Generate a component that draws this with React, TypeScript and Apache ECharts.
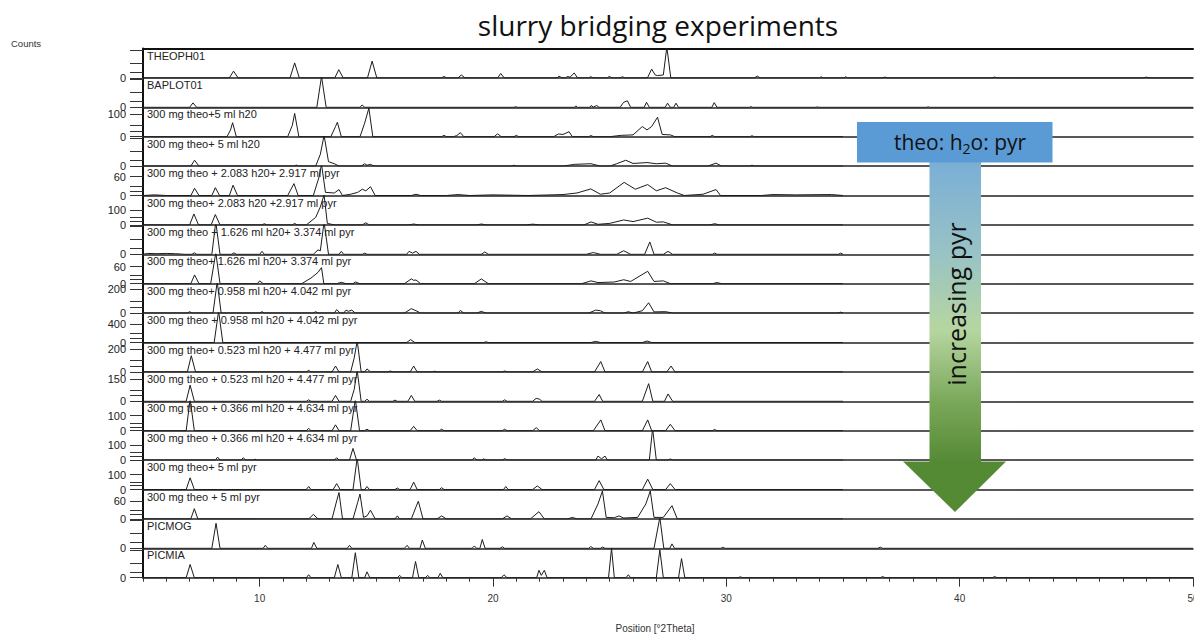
import React, { useEffect, useRef } from "react";
import * as echarts from "echarts";

// Strip names, top to bottom
const sampleNames = [
  "THEOPH01",
  "BAPLOT01",
  "300 mg theo+5 ml h20",
  "300 mg theo+ 5 ml h20",
  "300 mg theo + 2.083 h20+ 2.917 ml pyr",
  "300 mg theo+ 2.083 h20 +2.917 ml pyr",
  "300 mg theo + 1.626 ml h20+ 3.374 ml pyr",
  "300 mg theo+ 1.626 ml h20+ 3.374 ml pyr",
  "300 mg theo+ 0.958 ml h20+ 4.042 ml pyr",
  "300 mg theo + 0.958 ml h20 + 4.042 ml pyr",
  "300 mg theo+ 0.523 ml h20 + 4.477 ml pyr",
  "300 mg theo + 0.523 ml h20 + 4.477 ml pyr",
  "300 mg theo + 0.366 ml h20 + 4.634 ml pyr",
  "300 mg theo + 0.366 ml h20 + 4.634 ml pyr",
  "300 mg theo+ 5 ml pyr",
  "300 mg theo + 5 ml pyr",
  "PICMOG",
  "PICMIA",
];

// Counts at the top edge of each strip
const stripMax = [100, 100, 130, 100, 94, 196, 100, 104, 245, 653, 256, 200, 196, 196, 196, 98, 100, 100];

// Tick values and labelled values on each strip's counts axis
const stripTicks = [
  [0, 20, 50, 95], [0, 20, 50, 95], [0, 25, 50, 100], [0, 20, 50, 95],
  [0, 15, 30, 60], [0, 25, 50, 100], [0, 20, 50, 95], [0, 15, 30, 60],
  [0, 50, 100, 200], [0, 100, 200, 400], [0, 50, 100, 200], [0, 40, 75, 150],
  [0, 25, 50, 100], [0, 25, 50, 100], [0, 25, 50, 100], [0, 15, 30, 60],
  [0, 20, 50, 95], [0, 20, 50, 95],
];
const stripLabels = [
  [0], [0], [0, 100], [0], [0, 60], [0, 100], [0], [0, 60], [0, 200],
  [0, 400], [0, 200], [0, 150], [0, 100], [0, 100], [0, 100], [0, 60], [0], [0],
];

// Position axis ticks
const majorPositions = [10, 20, 30, 40, 50];

// Diffractograms: [°2θ, counts]
const theoph01 = [[5,0],[8.7,0],[8.88,23],[9.08,0],[11.3,0],[11.5,51],[11.7,0],[13.22,0],[13.39,28],[13.58,0],[14.62,0],[14.82,57],[15.02,0],[17.8,0],[17.9,5],[18.0,0],[18.5,0],[18.64,10],[18.8,0],[20.2,0],[20.33,15],[20.48,0],[22.75,0],[22.83,6],[22.95,0],[23.1,0],[23.2,5],[23.3,2],[23.48,17],[23.62,0],[24.1,0],[24.19,4],[24.3,0],[24.9,0],[24.98,5],[25.1,0],[25.45,0],[25.55,4],[25.65,0],[26.62,0],[26.8,30],[26.95,10],[27.05,8],[27.3,10],[27.45,105],[27.62,0],[31.2,0],[31.33,6],[31.45,0],[34,0],[34.06,4],[34.15,0],[35.05,0],[35.1,4],[35.2,0],[36.7,0],[36.8,3],[36.9,0],[41.4,0],[41.5,3],[41.6,0],[47.9,0],[48,3],[48.1,0],[50,0]];
const baplot01 = [[5,0],[7.0,0],[7.14,15],[7.3,0],[12.45,0],[12.65,105],[12.85,0],[14.3,0],[14.39,8],[14.5,0],[20.9,0],[20.97,2],[21.05,0],[23.5,0],[23.55,5],[23.62,0],[24.15,0],[24.2,6],[24.3,1],[24.45,6],[24.55,0],[25.45,0],[25.55,12],[25.62,18],[25.76,22],[25.9,0],[26.48,0],[26.58,17],[26.7,0],[27.38,0],[27.48,14],[27.6,0],[27.75,0],[27.84,14],[27.95,0],[29.38,0],[29.48,16],[29.6,0],[31,0],[31.05,3],[31.1,0],[33.85,0],[33.9,2],[33.95,0],[38.6,0],[38.65,2],[38.7,0],[50,0]];
const theoWater1 = [[5,0],[8.6,0],[8.75,30],[8.84,62],[9.0,0],[11.2,0],[11.4,50],[11.5,103],[11.68,0],[13.05,0],[13.25,45],[13.33,64],[13.5,0],[14.3,0],[14.5,60],[14.68,126],[14.85,0],[17.8,0],[17.9,6],[18.0,0],[18.3,0],[18.45,5],[18.6,18],[18.75,0],[20.05,0],[20.2,13],[20.35,0],[20.9,0],[21,6],[21.1,0],[22.6,0],[22.8,12],[23.0,10],[23.26,22],[23.4,0],[24.1,0],[24.2,5],[24.3,0],[25.0,0],[25.5,6],[26.0,8],[26.4,45],[26.6,30],[26.8,45],[27.05,86],[27.25,10],[27.6,8],[27.8,0],[29.3,0],[29.4,6],[29.5,0],[31,0],[31.1,4],[31.2,0],[35,0]];
const theoWater2 = [[5,0],[7.05,0],[7.21,20],[7.4,0],[11.5,0],[11.56,4],[11.65,0],[12.4,0],[12.6,40],[12.76,105],[12.95,15],[13.2,8],[13.4,0],[14.35,0],[14.5,8],[14.6,3],[14.75,6],[14.9,0],[20.8,0],[20.9,3],[21.0,0],[23.0,0],[23.5,6],[24.2,8],[24.6,0],[25.0,0],[25.3,8],[25.69,20],[26.0,9],[26.6,12],[27.0,8],[27.4,10],[27.7,0],[29.2,0],[29.56,10],[29.8,0],[31.0,0],[31.1,3],[31.2,0],[35,0]];
const pyr2917a = [[5,0],[5.5,2],[6,0],[7.05,0],[7.21,23],[7.4,0],[7.95,0],[8.1,25],[8.28,0],[8.7,0],[8.86,33],[9.05,0],[11.2,0],[11.47,38],[11.65,0],[12.3,0],[12.55,60],[12.65,100],[12.82,10],[13.2,8],[13.4,19],[13.55,0],[13.9,4],[14.2,10],[14.4,20],[14.55,15],[14.75,28],[14.95,0],[16.5,0],[16.7,4],[16.9,0],[18,0],[18.5,3],[19,0],[20,2],[21.5,0],[23.0,3],[23.6,8],[24.19,21],[24.6,4],[25.0,8],[25.62,42],[26.1,20],[26.63,35],[27.0,15],[27.4,25],[27.9,8],[28.2,0],[29.0,4],[29.56,19],[29.75,0],[31.5,0],[32.0,3],[33.0,2],[34.5,3],[35,0]];
const pyr2917b = [[5,0],[7.0,0],[7.18,73],[7.38,0],[7.92,0],[8.1,69],[8.3,0],[10.1,0],[10.2,8],[10.3,0],[11.4,0],[11.5,10],[11.6,0],[12.0,0],[12.4,50],[12.6,120],[12.76,200],[12.9,10],[13.2,0],[14.4,0],[14.55,14],[14.7,0],[16.4,0],[16.6,6],[16.8,0],[19.3,0],[19.5,6],[19.7,0],[21.4,0],[21.7,5],[22.0,0],[23.9,0],[24.2,20],[24.5,4],[25.0,10],[25.6,33],[26.0,22],[26.63,45],[27.0,18],[27.3,20],[27.7,0],[29.3,0],[29.5,8],[29.7,0],[35,0]];
const pyr3374a = [[5,0],[5.2,3],[5.6,2],[6.0,3],[6.4,2],[6.8,0],[7.1,0],[7.2,5],[7.3,0],[7.95,0],[8.12,110],[8.3,0],[8.8,0],[8.9,5],[9.0,0],[10.0,0],[10.1,10],[10.2,0],[12.3,0],[12.5,15],[12.6,12],[12.76,110],[12.95,0],[13.4,0],[13.5,10],[13.6,0],[14.4,0],[14.5,4],[14.6,0],[16.3,0],[16.4,10],[16.55,4],[16.7,10],[16.85,0],[19.5,0],[19.65,8],[19.8,0],[24.0,0],[24.3,6],[24.6,0],[25.3,0],[25.6,12],[25.9,0],[26.5,0],[26.72,42],[26.9,0],[27.3,0],[27.5,10],[27.7,0],[29.4,0],[29.5,4],[29.6,0],[34.8,0],[34.9,4],[35,0]];
const pyr3374b = [[5,0],[7.05,0],[7.21,31],[7.4,0],[7.9,0],[8.12,110],[8.3,0],[9.9,0],[10.0,10],[10.15,0],[11.8,0],[12.2,20],[12.5,40],[12.65,57],[12.75,0],[13.3,0],[13.5,5],[13.7,0],[14.0,0],[14.1,6],[14.3,0],[16.2,0],[16.5,17],[16.6,12],[16.7,13],[16.9,0],[19.2,0],[19.5,17],[19.8,0],[23.8,0],[24.2,10],[24.5,4],[25.2,6],[25.6,14],[25.9,8],[26.63,44],[26.9,8],[27.3,10],[27.6,0],[29.4,0],[29.6,4],[29.8,0],[35,0]];
const pyr4042a = [[5,0],[6.9,0],[7.0,12],[7.1,0],[8.0,0],[8.18,260],[8.35,0],[10.0,0],[10.1,12],[10.2,0],[12.3,0],[12.4,12],[12.5,0],[13.2,0],[13.3,29],[13.45,0],[13.6,0],[13.7,25],[13.8,15],[13.95,25],[14.1,0],[16.2,0],[16.5,37],[16.7,20],[16.9,0],[18.5,0],[18.6,22],[18.75,0],[19.3,0],[19.5,15],[19.7,0],[24.1,0],[24.4,25],[24.6,20],[24.8,0],[25.6,0],[25.8,12],[26.0,0],[26.4,20],[26.67,86],[26.9,10],[27.4,12],[27.7,0],[34.8,0],[34.9,8],[35,0]];
const pyr4042b = [[5,0],[8.05,0],[8.24,700],[8.42,0],[16.3,0],[16.47,65],[16.65,0],[19.6,0],[19.7,15],[19.8,0],[24.2,0],[24.4,25],[24.6,0],[26.4,0],[26.6,33],[26.8,0],[35,0]];
const pyr4477a = [[5,0],[6.9,0],[7.07,141],[7.25,0],[12.0,0],[12.1,13],[12.2,0],[13.1,0],[13.25,51],[13.4,0],[13.9,0],[14.05,120],[14.18,270],[14.35,0],[14.5,0],[14.6,26],[14.75,0],[15.5,0],[15.6,8],[15.7,0],[16.45,0],[16.6,51],[16.75,0],[17.4,0],[17.5,6],[17.6,0],[20.4,0],[20.5,8],[20.6,0],[21.7,0],[21.9,26],[22.1,0],[24.35,0],[24.62,90],[24.8,0],[26.4,0],[26.63,90],[26.8,0],[27.45,0],[27.63,51],[27.8,0],[35,0]];
const pyr4477b = [[5,0],[6.85,0],[7.02,110],[7.2,0],[12.0,0],[12.1,10],[12.2,0],[13.1,0],[13.25,40],[13.4,0],[13.9,0],[14.05,80],[14.18,210],[14.35,0],[14.5,0],[14.6,14],[14.7,0],[15.7,0],[15.8,8],[15.9,0],[16.35,0],[16.5,40],[16.65,0],[17.6,0],[17.7,8],[17.8,0],[20.4,0],[20.5,10],[20.6,0],[21.7,0],[21.85,20],[22.0,14],[22.1,0],[24.35,0],[24.55,46],[24.7,0],[26.4,0],[26.67,120],[26.85,0],[27.35,0],[27.5,50],[27.7,0],[35,0]];
const pyr4634a = [[5,0],[6.85,0],[7.02,210],[7.2,0],[12.0,0],[12.1,16],[12.2,0],[13.1,0],[13.25,39],[13.4,0],[13.9,0],[14.1,210],[14.28,0],[14.5,0],[14.6,10],[14.7,0],[16.45,0],[16.6,29],[16.75,0],[17.7,0],[17.8,10],[17.9,0],[20.4,0],[20.5,10],[20.6,0],[21.7,0],[21.85,20],[22.0,0],[24.3,0],[24.62,72],[24.8,0],[26.4,0],[26.63,72],[26.8,0],[27.4,0],[27.6,43],[27.8,0],[29.4,0],[29.5,8],[29.6,0],[35,0]];
const pyr4634b = [[5,0],[8.1,0],[8.2,20],[8.3,0],[9.2,0],[9.3,16],[9.4,0],[9.75,0],[9.8,8],[9.85,0],[13.2,0],[13.3,16],[13.4,0],[13.85,0],[14.0,78],[14.15,0],[19.1,0],[19.2,16],[19.3,0],[19.55,0],[19.6,10],[19.65,0],[20.4,0],[20.5,10],[20.6,0],[24.4,0],[24.5,27],[24.65,8],[24.8,27],[24.9,0],[26.7,0],[26.84,210],[27.0,0],[27.5,0],[27.6,8],[27.7,0],[35,0]];
const pyr5a = [[5,0],[6.85,0],[7.02,78],[7.2,0],[12.0,0],[12.1,20],[12.2,0],[13.15,0],[13.3,39],[13.45,0],[14.0,0],[14.18,210],[14.35,0],[14.5,0],[14.6,20],[14.7,0],[15.8,0],[15.9,10],[16.0,0],[16.45,0],[16.6,49],[16.75,0],[17.7,0],[17.8,12],[17.9,0],[20.45,0],[20.55,20],[20.65,0],[21.7,0],[21.9,24],[22.1,0],[24.35,0],[24.55,59],[24.75,0],[26.4,0],[26.63,69],[26.85,0],[27.4,0],[27.6,39],[27.8,0],[35,0]];
const pyr5b = [[5,0],[7.05,0],[7.2,34],[7.35,0],[12.1,0],[12.3,15],[12.5,0],[13.1,0],[13.3,60],[13.4,88],[13.55,0],[14.0,0],[14.2,55],[14.3,83],[14.45,5],[14.6,10],[14.75,29],[14.95,0],[15.8,0],[15.9,10],[16.0,0],[16.5,0],[16.7,40],[16.8,59],[17.0,0],[17.6,0],[17.8,10],[18.0,0],[20.4,0],[20.6,10],[20.8,0],[21.6,0],[21.97,24],[22.2,0],[23.2,0],[23.4,5],[23.6,0],[24.2,0],[24.5,50],[24.69,93],[24.85,5],[25.2,4],[25.4,10],[25.6,3],[26.2,5],[26.55,50],[26.74,93],[26.9,5],[27.3,5],[27.67,44],[27.9,0],[35,0]];
const picmog = [[5,0],[7.95,0],[8.13,85],[8.3,0],[10.15,0],[10.24,10],[10.35,0],[12.22,0],[12.32,20],[12.45,0],[13.75,0],[13.85,10],[13.95,0],[16.2,0],[16.32,10],[16.42,0],[16.87,0],[16.97,28],[17.1,0],[19.1,0],[19.2,8],[19.3,0],[19.44,0],[19.54,30],[19.66,0],[20.3,0],[20.4,5],[20.5,0],[24.1,0],[24.19,6],[24.3,0],[24.6,0],[24.7,4],[24.8,0],[26.9,0],[27.15,105],[27.32,0],[27.58,0],[27.67,15],[27.78,0],[29.75,0],[29.85,3],[29.95,0],[36.5,0],[36.6,4],[36.7,0],[50,0]];
const picmia = [[5,0],[6.85,0],[7.02,45],[7.2,0],[12.0,0],[12.1,10],[12.2,0],[13.2,0],[13.35,45],[13.5,0],[13.95,0],[14.1,85],[14.25,0],[14.5,0],[14.6,20],[14.72,0],[15.9,0],[16.0,8],[16.1,0],[16.55,0],[16.68,55],[16.82,0],[17.1,0],[17.2,8],[17.3,0],[17.64,0],[17.74,15],[17.85,0],[20.35,0],[20.47,10],[20.6,0],[21.87,0],[21.97,25],[22.07,8],[22.2,25],[22.32,0],[24.95,0],[25.08,100],[25.2,0],[25.7,0],[25.8,10],[25.9,0],[27.0,0],[27.15,95],[27.3,0],[27.95,0],[28.08,65],[28.22,0],[30.5,0],[30.6,3],[30.7,0],[36.6,0],[36.7,4],[36.8,0],[41.4,0],[41.5,4],[41.6,0],[50,0]];

const traces = [
  theoph01, baplot01, theoWater1, theoWater2, pyr2917a, pyr2917b, pyr3374a, pyr3374b,
  pyr4042a, pyr4042b, pyr4477a, pyr4477b, pyr4634a, pyr4634b, pyr5a, pyr5b, picmog, picmia,
];

const GRID_LEFT = 143;
const GRID_WIDTH = 1050;
const GRID_TOP = 48.5;
const STRIP_H = 29.4;
const AXIS_FONT = "'Liberation Sans', Arial, sans-serif";
const SLIDE_FONT = "'Open Sans', 'Noto Sans', sans-serif";
const n = sampleNames.length;

function buildOption() {
  const grids = sampleNames.map((_, i) => ({
    left: GRID_LEFT,
    width: GRID_WIDTH,
    top: GRID_TOP + i * STRIP_H,
    height: STRIP_H,
  }));

  const xAxes: any[] = sampleNames.map((_, i) => {
    const last = i === n - 1;
    return {
      type: "value",
      gridIndex: i,
      min: 5,
      max: 50,
      interval: last ? 1 : undefined,
      axisLine: { show: true, onZero: false, lineStyle: { color: "#222", width: 1.5 } },
      axisTick: { show: last, length: 4, lineStyle: { color: "#333", width: 1 } },
      axisLabel: { show: false },
      splitLine: { show: false },
    };
  });
  // long ticks + labels on the bottom position axis
  xAxes.push({
    type: "value",
    gridIndex: n - 1,
    position: "bottom",
    min: 5,
    max: 50,
    axisLine: { show: false },
    axisTick: { show: true, length: 9, customValues: majorPositions, lineStyle: { color: "#333", width: 1 } },
    axisLabel: {
      show: true,
      customValues: majorPositions,
      fontSize: 10,
      color: "#333",
      fontFamily: AXIS_FONT,
      margin: 16,
    },
    splitLine: { show: false },
  });
  // top frame line
  xAxes.push({
    type: "value",
    gridIndex: 0,
    position: "top",
    min: 5,
    max: 50,
    axisLine: { show: true, onZero: false, lineStyle: { color: "#111", width: 2 } },
    axisTick: { show: false },
    axisLabel: { show: false },
    splitLine: { show: false },
  });

  const yAxes = sampleNames.map((_, i) => ({
    type: "value",
    gridIndex: i,
    min: 0,
    max: stripMax[i],
    axisLine: { show: true, onZero: false, lineStyle: { color: "#111", width: 2 } },
    axisTick: { show: true, length: 13, customValues: stripTicks[i], lineStyle: { color: "#333", width: 1 } },
    axisLabel: {
      show: true,
      customValues: stripLabels[i],
      fontSize: 11,
      color: "#222",
      fontFamily: AXIS_FONT,
      margin: 17,
    },
    splitLine: { show: false },
  }));

  const series = traces.map((d, i) => ({
    type: "line",
    name: sampleNames[i],
    xAxisIndex: i,
    yAxisIndex: i,
    data: d,
    showSymbol: false,
    symbol: "none",
    clip: true,
    silent: true,
    lineStyle: { color: "#1c1c1c", width: 1 },
    z: 3,
  }));

  const stripTitles = sampleNames.map((name, i) => ({
    type: "text",
    x: GRID_LEFT + 4,
    y: GRID_TOP + i * STRIP_H + 1.5,
    z: 5,
    silent: true,
    style: {
      text: name,
      fontSize: 11,
      fontFamily: AXIS_FONT,
      fill: "#222",
      textVerticalAlign: "top",
    },
  }));

  const arrow = [
    {
      type: "rect",
      z: 100,
      shape: { x: 929.5, y: 162, width: 51.5, height: 300 },
      style: {
        fill: {
          type: "linear",
          x: 0,
          y: 0,
          x2: 0,
          y2: 1,
          colorStops: [
            { offset: 0, color: "#7aafd6" },
            { offset: 0.3, color: "#98c2c6" },
            { offset: 0.56, color: "#b6d6a0" },
            { offset: 0.8, color: "#7aa85a" },
            { offset: 1, color: "#558a35" },
          ],
        },
      },
    },
    {
      type: "polygon",
      z: 100,
      shape: { points: [[903, 461.5], [1006, 461.5], [955, 512]] },
      style: { fill: "#558a35" },
    },
    {
      type: "rect",
      z: 101,
      shape: { x: 857, y: 122, width: 195.5, height: 40.5 },
      style: { fill: "#5b9bd5" },
    },
    {
      type: "text",
      z: 102,
      x: 960,
      y: 142,
      style: {
        text: "{a|theo: h}{s|2}{a|o: pyr}",
        textAlign: "center",
        textVerticalAlign: "middle",
        rich: {
          a: { fontSize: 21, fontFamily: SLIDE_FONT, fill: "#111" },
          s: { fontSize: 14, fontFamily: SLIDE_FONT, fill: "#111", padding: [12, 0, 0, 0] },
        },
      },
    },
    {
      type: "text",
      z: 102,
      x: 956,
      y: 304,
      rotation: Math.PI / 2,
      style: {
        text: "increasing pyr",
        fontSize: 25,
        fontFamily: SLIDE_FONT,
        fill: "#111",
        textAlign: "center",
        textVerticalAlign: "middle",
      },
    },
  ];

  const captions = [
    {
      type: "text",
      x: 658,
      y: 25,
      style: {
        text: "slurry bridging experiments",
        fontSize: 28,
        fontFamily: SLIDE_FONT,
        fill: "#111",
        textAlign: "center",
        textVerticalAlign: "middle",
      },
    },
    {
      type: "text",
      x: 11,
      y: 43,
      style: {
        text: "Counts",
        fontSize: 9.5,
        fontFamily: AXIS_FONT,
        fill: "#333",
        textVerticalAlign: "middle",
      },
    },
    {
      type: "text",
      x: 655,
      y: 628,
      style: {
        text: "Position [°2Theta]",
        fontSize: 10,
        fontFamily: AXIS_FONT,
        fill: "#333",
        textAlign: "center",
        textVerticalAlign: "middle",
      },
    },
  ];

  return {
    animation: false,
    backgroundColor: "#ffffff",
    grid: grids,
    xAxis: xAxes,
    yAxis: yAxes,
    series,
    graphic: [...stripTitles, ...captions, ...arrow],
  };
}

export default function App() {
  const ref = useRef<HTMLDivElement>(null);
  useEffect(() => {
    if (!ref.current) return;
    const chart = echarts.init(ref.current, null, { renderer: "svg" });
    chart.setOption(buildOption() as any);
    return () => chart.dispose();
  }, []);
  return (
    <div
      style={{
        position: "fixed",
        left: 0,
        top: 0,
        width: 1194,
        height: 634,
        overflow: "hidden",
        background: "#fff",
      }}
    >
      <div ref={ref} style={{ width: 1240, height: 634 }} />
    </div>
  );
}
